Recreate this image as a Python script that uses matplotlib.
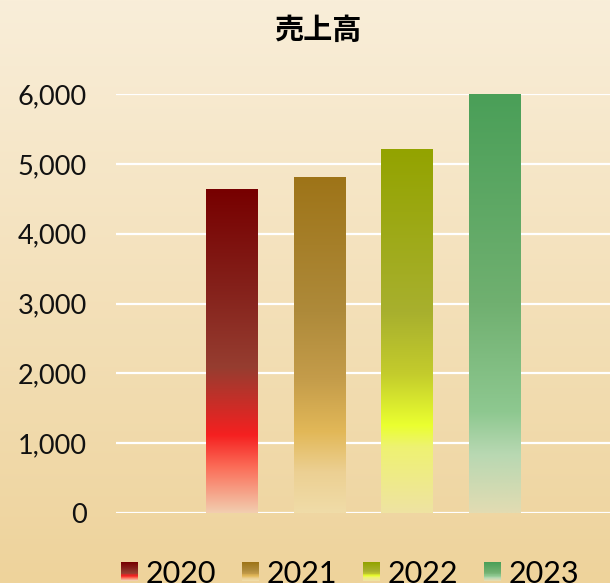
import numpy as np
import matplotlib
matplotlib.use("Agg")
import matplotlib.pyplot as plt
from matplotlib.colors import to_rgb
from matplotlib.patches import Rectangle
from matplotlib.legend_handler import HandlerBase

# data
years = ["2020", "2021", "2022", "2023"]
sales = [4630, 4810, 5200, 6000]
yticks = [0, 1000, 2000, 3000, 4000, 5000, 6000]

# gradient stops per bar (fraction from top, colour)
stops = {
    "2020": [(0.0, "#770000"), (0.3, "#84201a"), (0.55, "#963d30"), (0.76, "#f52020"),
             (0.86, "#fb6d58"), (1.0, "#f2cdaf")],
    "2021": [(0.0, "#9e7418"), (0.4, "#ae8a3a"), (0.6, "#c49c4a"), (0.76, "#e2b858"),
             (0.88, "#ecd093"), (1.0, "#f0dca8")],
    "2022": [(0.0, "#93a300"), (0.45, "#a8b02e"), (0.62, "#c4cc2c"), (0.76, "#eaff30"),
             (0.82, "#eef272"), (1.0, "#efe3a2")],
    "2023": [(0.0, "#4a9f58"), (0.5, "#70b070"), (0.76, "#8ec890"), (0.86, "#b8d8b2"),
             (1.0, "#e2dcb2")],
}


def gradient(stop_list, n=256):
    pos = [s[0] for s in stop_list]
    cols = np.array([to_rgb(s[1]) for s in stop_list])
    t = np.linspace(0, 1, n)
    return np.stack([np.interp(t, pos, cols[:, i]) for i in range(3)], axis=1)


plt.rcParams['font.family'] = ['Lato', 'DejaVu Sans']

fig = plt.figure(figsize=(6.1, 5.83), dpi=100)

# background gradient
bg = fig.add_axes([0, 0, 1, 1], zorder=-10)
bg_grad = gradient([(0.0, "#f9eed9"), (1.0, "#eed39b")])
bg.imshow(bg_grad[:, None, :], aspect='auto', extent=[0, 1, 0, 1])
bg.set_axis_off()

ax = fig.add_axes([116 / 610, 70 / 583, 494 / 610, 419 / 583])
ax.set_facecolor('none')

width = 0.594
for i, (yr, v) in enumerate(zip(years, sales)):
    g = gradient(stops[yr])
    ax.imshow(g[:, None, :], aspect='auto', extent=[i - width / 2, i + width / 2, 0, v],
              zorder=3, interpolation='bilinear')

ax.set_xlim(-1.326, 4.32)
ax.set_ylim(0, 6000)
ax.set_yticks(yticks)
ax.set_yticklabels([f"{t:,}" for t in yticks])
ax.set_xticks([])
ax.yaxis.grid(True, color='white', linewidth=1.6, zorder=1)
ax.set_axisbelow(True)
for s in ax.spines.values():
    s.set_visible(False)
ax.tick_params(axis='y', length=0, pad=21, labelsize=19.5, labelcolor='#111111')

fig.text(318 / 610, 1 - 30 / 583, "売上高", ha='center', va='center', fontsize=21,
         fontweight='bold', family=['Noto Sans CJK JP', 'DejaVu Sans'])


class GradHandler(HandlerBase):
    def __init__(self, stop_list):
        super().__init__()
        self.stop_list = stop_list

    def create_artists(self, legend, orig_handle, xdescent, ydescent, width, height,
                       fontsize, trans):
        n = 20
        g = gradient(self.stop_list, n)
        arts = []
        for k in range(n):
            y0 = -ydescent + height * (1 - (k + 1) / n)
            r = Rectangle((-xdescent, y0), width, height / n + 0.05, facecolor=g[k],
                          edgecolor='none', transform=trans)
            arts.append(r)
        return arts


handles = [Rectangle((0, 0), 1, 1) for _ in years]
hmap = {h: GradHandler(stops[yr]) for h, yr in zip(handles, years)}
fig.legend(handles, years, handler_map=hmap, loc='lower center',
           bbox_to_anchor=(350 / 610, -0.055), ncol=4, frameon=False, fontsize=22,
           handlelength=0.55, handleheight=0.55, handletextpad=0.25, columnspacing=0.85)

fig.savefig("out.png", dpi=100)
